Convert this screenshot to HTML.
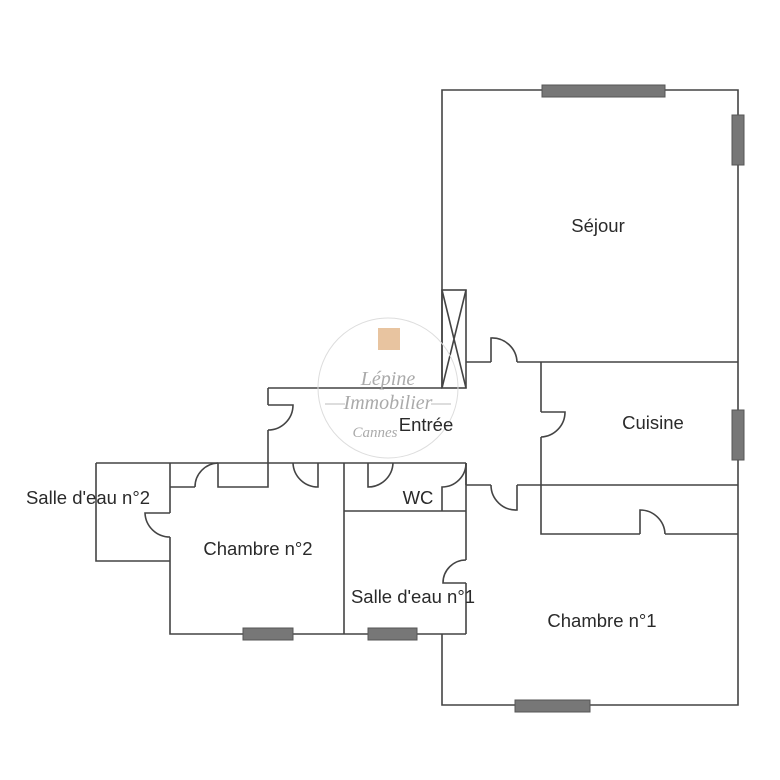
<!DOCTYPE html>
<html><head><meta charset="utf-8"><style>
html,body{margin:0;padding:0;background:#fff;}
svg{display:block}
text{font-family:"Liberation Sans",sans-serif;fill:#2a2a2a;}
</style></head><body>
<svg width="780" height="780" viewBox="0 0 780 780" xmlns="http://www.w3.org/2000/svg">
<g fill="none" stroke="#444" stroke-width="1.6">
<path d="M442 388 V90 H738 V705 H442 V634"/>
<path d="M466 362 H491 M517 362 H738"/>
<path d="M491 362 V338 A25 25 0 0 1 517 362"/>
<rect x="442" y="290" width="24" height="98"/>
<path d="M442 290 L466 388 M466 290 L442 388"/>
<path d="M541 362 V412 M541 437 V534 H640 M665 534 H738"/>
<path d="M541 412 H565 A25 25 0 0 1 541 437"/>
<path d="M640 534 V510 A25 25 0 0 1 665 534"/>
<path d="M466 485 H491 M517 485 H738"/>
<path d="M517 485 V510 A25 25 0 0 1 491 485"/>
<path d="M268 388 H442 M268 388 V405 M268 430 V463"/>
<path d="M268 405 H293 A25 25 0 0 1 268 430"/>
<path d="M96 463 H466 M96 463 V561 H170 M170 463 V513 M170 537 V634 H466"/>
<path d="M170 513 H145 A25 25 0 0 0 170 537"/>
<path d="M170 487 H195 M218 463 V487 H268 V463"/>
<path d="M195 487 A24 24 0 0 1 218 463"/>
<path d="M318 463 V487 A25 25 0 0 1 293 463"/>
<path d="M344 463 V634 M344 511 H466"/>
<path d="M368 463 V487 A25 25 0 0 0 393 463"/>
<path d="M442 511 V487 A24 24 0 0 0 466 463"/>
<path d="M466 463 V560 M466 583 V634"/>
<path d="M466 560 A23 23 0 0 0 443 583 H466"/>
<path d="M466 485 V463"/>
</g>
<g fill="#777" stroke="#555" stroke-width="1">
<rect x="542" y="85" width="123" height="12"/>
<rect x="732" y="115" width="12" height="50"/>
<rect x="732" y="410" width="12" height="50"/>
<rect x="515" y="700" width="75" height="12"/>
<rect x="243" y="628" width="50" height="12"/>
<rect x="368" y="628" width="49" height="12"/>
</g>
<circle cx="388" cy="388" r="70" fill="none" stroke="#ddd" stroke-width="1"/>
<rect x="378" y="328" width="22" height="22" fill="#e8c4a0"/>
<path d="M325 404 H345 M431 404 H451" stroke="#bbb" stroke-width="1"/>
<text x="388" y="385" font-size="20" text-anchor="middle" style="font-family:'Liberation Serif',serif;font-style:italic;fill:#aaa">Lépine</text>
<text x="388" y="409" font-size="20" text-anchor="middle" style="font-family:'Liberation Serif',serif;font-style:italic;fill:#aaa">Immobilier</text>
<text x="375" y="437" font-size="15" text-anchor="middle" style="font-family:'Liberation Serif',serif;font-style:italic;fill:#aaa">Cannes</text>
<g font-size="18.5">
<text x="598" y="232" text-anchor="middle">Séjour</text>
<text x="653" y="429" text-anchor="middle">Cuisine</text>
<text x="426" y="431" text-anchor="middle">Entrée</text>
<text x="418" y="504" text-anchor="middle">WC</text>
<text x="88" y="504" text-anchor="middle">Salle d'eau n°2</text>
<text x="258" y="555" text-anchor="middle">Chambre n°2</text>
<text x="413" y="603" text-anchor="middle">Salle d'eau n°1</text>
<text x="602" y="627" text-anchor="middle">Chambre n°1</text>
</g>
</svg>
</body></html>
